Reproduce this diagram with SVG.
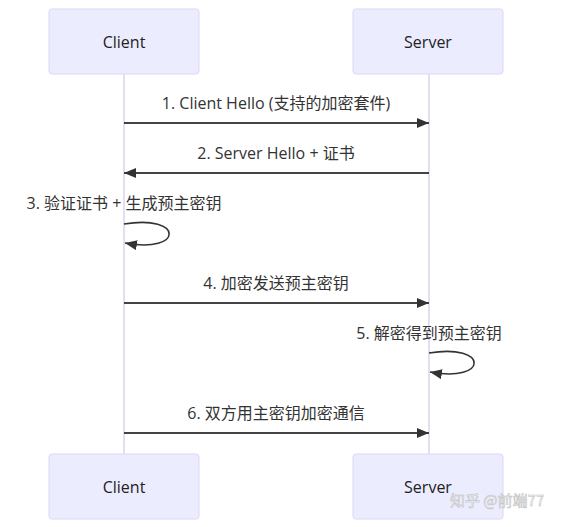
<svg xmlns="http://www.w3.org/2000/svg" width="570" height="527" viewBox="0 0 570 527">
<defs>
<style>
.actor rect{fill:#ECECFF;stroke:#dcd6f3;stroke-width:1}
.actor text{font-family:"Open Sans","Liberation Sans","Noto Sans CJK SC",sans-serif;font-size:16px;fill:#222;text-anchor:middle;dominant-baseline:central}
.life{stroke:#cfc9ee;stroke-width:1.2}
.msg{stroke:#444;stroke-width:2;fill:none}
.loop{stroke:#333;stroke-width:1.6;fill:none}
.lbl{font-family:"Open Sans","Liberation Sans","Noto Sans CJK SC",sans-serif;font-size:16px;fill:#333;text-anchor:middle}
.wm{font-family:"Noto Sans CJK SC",sans-serif;font-size:15px;fill:#f4f4f4;stroke:#bbb;stroke-width:0.5}
</style>
<marker id="ah" viewBox="0 0 12 10" refX="12" refY="5" markerWidth="12" markerHeight="10" markerUnits="userSpaceOnUse" orient="auto">
<path d="M0,0 L12,5 L0,10 z" fill="#333"/>
</marker>
</defs>
<rect width="570" height="527" fill="#fff"/>
<g id="lifelines">
<line class="life" x1="124" y1="74" x2="124" y2="454"/>
<line class="life" x1="429" y1="74" x2="429" y2="454"/>
</g>
<g id="client-top" class="actor"><rect x="49" y="9" width="150" height="65" rx="3"/><text x="124" y="42">Client</text></g>
<g id="server-top" class="actor"><rect x="353" y="9" width="150" height="65" rx="3"/><text x="428" y="42">Server</text></g>
<g id="client-bottom" class="actor"><rect x="49" y="454" width="150" height="65" rx="3"/><text x="124" y="487">Client</text></g>
<g id="server-bottom" class="actor"><rect x="353" y="454" width="150" height="65" rx="3"/><text x="428" y="487">Server</text></g>
<g id="connectors">
<line class="msg" x1="124" y1="123" x2="429" y2="123" marker-end="url(#ah)"/>
<line class="msg" x1="429" y1="173" x2="124" y2="173" marker-end="url(#ah)"/>
<path class="loop" d="M124,224 C184,214 184,254 125,243" marker-end="url(#ah)"/>
<line class="msg" x1="124" y1="303" x2="429" y2="303" marker-end="url(#ah)"/>
<path class="loop" d="M429,353 C489,343 489,383 430,372" marker-end="url(#ah)"/>
<line class="msg" x1="124" y1="433" x2="429" y2="433" marker-end="url(#ah)"/>
</g>
<g id="labels">
<text class="lbl" x="276" y="109">1. Client Hello (支持的加密套件)</text>
<text class="lbl" x="276" y="159">2. Server Hello + 证书</text>
<text class="lbl" x="124" y="209">3. 验证证书 + 生成预主密钥</text>
<text class="lbl" x="276" y="289">4. 加密发送预主密钥</text>
<text class="lbl" x="429" y="339">5. 解密得到预主密钥</text>
<text class="lbl" x="276" y="419">6. 双方用主密钥加密通信</text>
</g>
<text class="wm" x="450" y="506">知乎 @前端77</text>
</svg>
